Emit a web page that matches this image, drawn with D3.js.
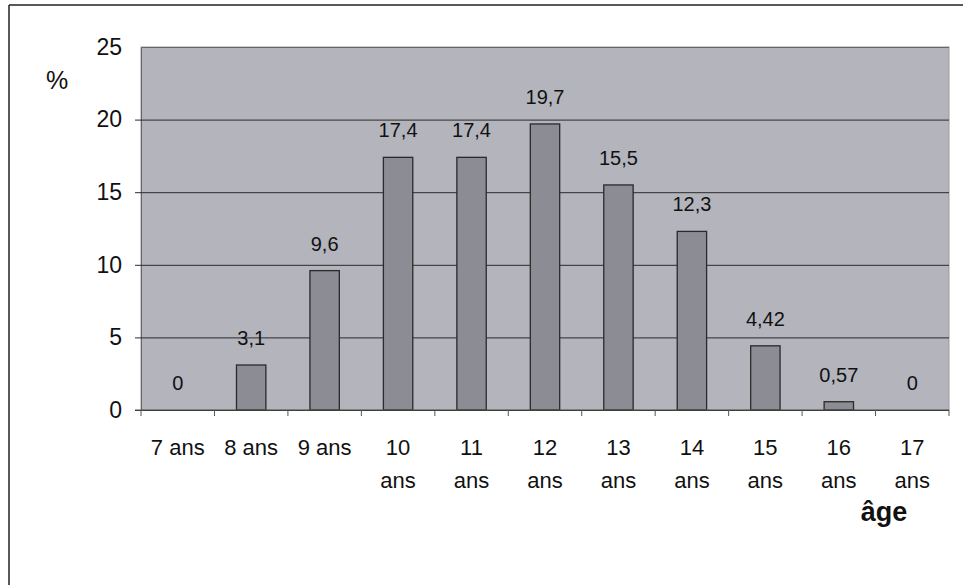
<!DOCTYPE html>
<html>
<head>
<meta charset="utf-8">
<script src="https://cdn.jsdelivr.net/npm/d3@7"></script>
<style>
  body { margin: 0; background: #fff; }
  svg { display: block; }
  text { font-family: "Liberation Sans", Arial, sans-serif; fill: #111; }
</style>
</head>
<body>
<svg width="963" height="585"></svg>
<script>
const ages = ['7 ans', '8 ans', '9 ans', '10 ans', '11 ans', '12 ans', '13 ans', '14 ans', '15 ans', '16 ans', '17 ans'];
const percents = [0, 3.1, 9.6, 17.4, 17.4, 19.7, 15.5, 12.3, 4.42, 0.57, 0];
const valueLabels = ['0', '3,1', '9,6', '17,4', '17,4', '19,7', '15,5', '12,3', '4,42', '0,57', '0'];
const yTicks = [0, 5, 10, 15, 20, 25];

const svg = d3.select('svg');
const width = +svg.attr('width');
const height = +svg.attr('height');

const margin = { top: 47, right: 14, bottom: 175, left: 141 };
const innerWidth = width - margin.left - margin.right;
const innerHeight = height - margin.top - margin.bottom;

// outer frame (scanned page: top and left edges only)
svg.append('line')
  .attr('x1', 9).attr('y1', 5).attr('x2', width).attr('y2', 5)
  .attr('stroke', '#222').attr('stroke-width', 1.5);
svg.append('line')
  .attr('x1', 9).attr('y1', 5).attr('x2', 9).attr('y2', height)
  .attr('stroke', '#222').attr('stroke-width', 1.5);

const g = svg.append('g')
  .attr('transform', `translate(${margin.left}, ${margin.top})`);

const xScale = d3.scaleBand()
  .domain(ages)
  .range([0, innerWidth])
  .paddingInner(0.6)
  .paddingOuter(0.3);

const yScale = d3.scaleLinear()
  .domain([0, 25])
  .range([innerHeight, 0]);

// plot area
g.append('rect')
  .attr('width', innerWidth)
  .attr('height', innerHeight)
  .attr('fill', '#b4b4bd')
  .attr('stroke', '#9a9aa0');

// gridlines
const yAxis = d3.axisLeft(yScale)
  .tickValues(yTicks)
  .tickSize(-innerWidth)
  .tickPadding(19)
  .tickFormat(d3.format('d'));

const yAxisGroup = g.append('g').call(yAxis);
yAxisGroup.select('.domain').attr('stroke', '#666');
yAxisGroup.selectAll('.tick line')
  .attr('stroke', (d) => d === 25 ? 'none' : '#2a2a2a')
  .attr('x1', -6);
yAxisGroup.selectAll('.tick text')
  .attr('font-size', 23)
  .attr('font-family', '"Liberation Sans", Arial, sans-serif')
  .attr('fill', '#111');

// bars
g.selectAll('.bar').data(percents)
  .enter().append('rect')
  .attr('class', 'bar')
  .attr('x', (d, i) => xScale(ages[i]))
  .attr('y', d => yScale(d))
  .attr('width', xScale.bandwidth())
  .attr('height', d => innerHeight - yScale(d))
  .attr('fill', '#8c8c94')
  .attr('stroke', '#2a2a2a')
  .attr('stroke-width', 1.3);

// value labels
g.selectAll('.value').data(percents)
  .enter().append('text')
  .attr('class', 'value')
  .attr('x', (d, i) => xScale(ages[i]) + xScale.bandwidth() / 2)
  .attr('y', d => yScale(d) - 20)
  .attr('text-anchor', 'middle')
  .attr('font-size', 20)
  .attr('fill', '#222')
  .text((d, i) => valueLabels[i]);

// x axis
const xAxisLine = g.append('g')
  .attr('transform', `translate(0, ${innerHeight})`);
xAxisLine.append('line')
  .attr('x1', -6).attr('x2', innerWidth)
  .attr('stroke', '#555');
xAxisLine.selectAll('.xtick').data(d3.range(ages.length + 1))
  .enter().append('line')
  .attr('class', 'xtick')
  .attr('x1', i => i * xScale.step())
  .attr('x2', i => i * xScale.step())
  .attr('y1', 0).attr('y2', 6)
  .attr('stroke', '#555');

// two-digit ages wrap onto two lines, as in the original
const labelLines = ages.flatMap(d => {
  const parts = d.split(' ');
  return parts[0].length > 1
    ? [{ age: d, text: parts[0], line: 0 }, { age: d, text: parts[1], line: 1 }]
    : [{ age: d, text: d, line: 0 }];
});

xAxisLine.selectAll('.xlabel').data(labelLines)
  .enter().append('text')
  .attr('class', 'xlabel')
  .attr('x', d => xScale(d.age) + xScale.bandwidth() / 2)
  .attr('y', d => 45 + d.line * 33)
  .attr('text-anchor', 'middle')
  .attr('font-size', 22)
  .text(d => d.text);

// axis titles
svg.append('text')
  .attr('x', 57).attr('y', 89)
  .attr('font-size', 25)
  .attr('text-anchor', 'middle')
  .text('%');

svg.append('text')
  .attr('x', 884).attr('y', 521)
  .attr('font-size', 27)
  .attr('font-weight', 'bold')
  .attr('text-anchor', 'middle')
  .text('âge');
</script>
</body>
</html>
